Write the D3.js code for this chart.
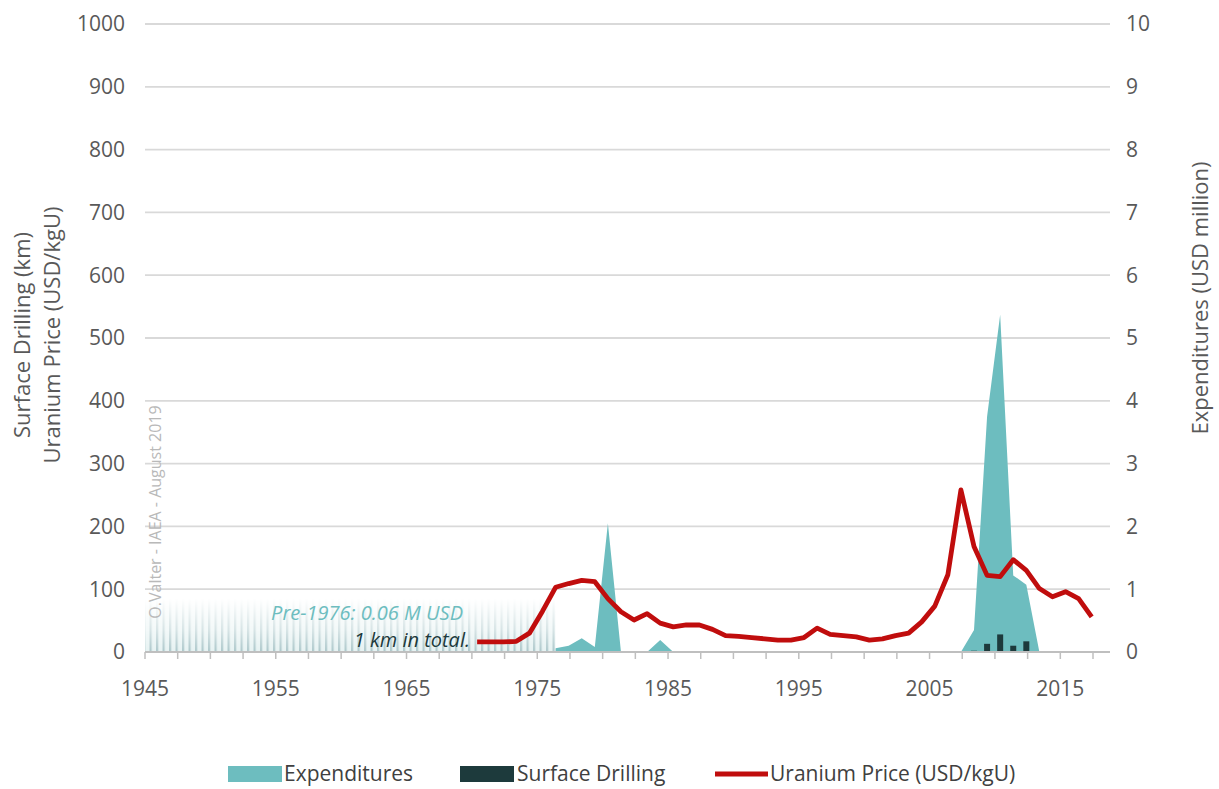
<!DOCTYPE html>
<html>
<head>
<meta charset="utf-8">
<script src="https://cdn.jsdelivr.net/npm/d3@7"></script>
<style>
  html, body { margin: 0; padding: 0; background: #ffffff; }
  svg { display: block; }
  text { font-family: "Open Sans", "Noto Sans", sans-serif; }
</style>
</head>
<body>
<svg id="chart" width="1219" height="789"></svg>
<script>
// ---------------- DATA ----------------
const priceYears = [1970,1971,1972,1973,1974,1975,1976,1977,1978,1979,1980,1981,1982,1983,1984,1985,1986,1987,1988,1989,1990,1991,1992,1993,1994,1995,1996,1997,1998,1999,2000,2001,2002,2003,2004,2005,2006,2007,2008,2009,2010,2011,2012,2013,2014,2015,2016,2017];
const priceValues = [16,16,16,17,30,65,103,109,114,112,85,64,51,61,46,40,43,43,36,26,25,23,21,19,19,23,38,28,26,24,19,21,26,30,48,73,123,258,168,122,120,147,130,101,88,96,85,56];

const expYears  = [1976,1977,1978,1979,1980,1981,1982,1983,1984,1985,1986,1987,1988,1989,1990,1991,1992,1993,1994,1995,1996,1997,1998,1999,2000,2001,2002,2003,2004,2005,2006,2007,2008,2009,2010,2011,2012,2013];
const expValues = [0.06,0.10,0.22,0.08,2.05,0,0,0,0.19,0,0,0,0,0,0,0,0,0,0,0,0,0,0,0,0,0,0,0,0,0,0,0,0.35,3.75,5.37,1.22,1.07,0];

const drillYears  = [2008,2009,2010,2011,2012];
const drillValues = [2,13,28,10,17];

const preRange = [1945, 1976];   // pre-1976 aggregated period (hatched)
const preLevel = 0.85;           // hatched band height, right axis units

const leftTicks  = [0,100,200,300,400,500,600,700,800,900,1000];
const rightTicks = [0,1,2,3,4,5,6,7,8,9,10];
const xLabelYears = [1945,1955,1965,1975,1985,1995,2005,2015];

const legendItems = ["Expenditures", "Surface Drilling", "Uranium Price (USD/kgU)"];
const leftTitle = ["Surface Drilling (km)", "Uranium Price (USD/kgU)"];
const rightTitle = "Expenditures (USD million)";
const notePre = "Pre-1976: 0.06 M USD";
const noteKm = "1 km in total.";
const credit = "O.Valter - IAEA - August 2019";

// ---------------- LAYOUT ----------------
const POINT_OFFSET = 0.4; // points sit slightly after the year tick
const C = { teal: "#6dbdbf", dark: "#1d3a3c", red: "#c00d0d", grid: "#d9d9d9", axis: "#bfbfbf", text: "#595959" };

const svg = d3.select("#chart");
svg.append("rect").attr("width", 1219).attr("height", 789).attr("fill", "#fff");

const x = d3.scaleLinear().domain([1945, 2018.8]).range([145, 1110]);
const yL = d3.scaleLinear().domain([0, 1000]).range([652, 24]);
const yR = d3.scaleLinear().domain([0, 10]).range([652, 24]);
const px = yr => x(yr + POINT_OFFSET);

// gridlines
svg.append("g").selectAll("line").data(leftTicks.filter(d => d > 0)).join("line")
  .attr("x1", x.range()[0]).attr("x2", x.range()[1])
  .attr("y1", d => yL(d)).attr("y2", d => yL(d))
  .attr("stroke", C.grid).attr("stroke-width", 1.8);

// defs: stripes pattern and fade mask
const defs = svg.append("defs");
const pat = defs.append("pattern").attr("id", "stripes").attr("patternUnits", "userSpaceOnUse")
  .attr("width", 6.5).attr("height", 10);
pat.append("rect").attr("width", 6.5).attr("height", 10).attr("fill", "#e6f2f2");
pat.append("rect").attr("x", 0).attr("width", 2.2).attr("height", 10).attr("fill", "#adc8cb");
const grad = defs.append("linearGradient").attr("id", "fade").attr("x1", 0).attr("y1", 0).attr("x2", 0).attr("y2", 1);
grad.append("stop").attr("offset", "0%").attr("stop-color", "#fff").attr("stop-opacity", 0);
grad.append("stop").attr("offset", "60%").attr("stop-color", "#fff").attr("stop-opacity", 0.5);
grad.append("stop").attr("offset", "100%").attr("stop-color", "#fff").attr("stop-opacity", 1);
const mask = defs.append("mask").attr("id", "fadeMask").attr("maskContentUnits", "objectBoundingBox");
mask.append("rect").attr("width", 1).attr("height", 1).attr("fill", "url(#fade)");

svg.append("rect")
  .attr("x", x(preRange[0])).attr("width", px(preRange[1]) - x(preRange[0]))
  .attr("y", yR(preLevel)).attr("height", yR(0) - yR(preLevel))
  .attr("fill", "url(#stripes)").attr("mask", "url(#fadeMask)");

// expenditures area (right axis)
const expData = expYears.map((y, i) => ({ y, v: expValues[i] }));
svg.append("path").datum(expData)
  .attr("d", d3.area().x(d => px(d.y)).y0(yR(0)).y1(d => yR(d.v)))
  .attr("fill", C.teal);

// drilling bars (left axis)
const bw = 6;
svg.append("g").selectAll("rect").data(drillYears.map((y, i) => ({ y, v: drillValues[i] }))).join("rect")
  .attr("x", d => px(d.y) - bw / 2).attr("width", bw)
  .attr("y", d => yL(d.v)).attr("height", d => yL(0) - yL(d.v))
  .attr("fill", C.dark);

// x axis line + ticks
svg.append("line").attr("x1", x.range()[0]).attr("x2", x.range()[1])
  .attr("y1", yL(0)).attr("y2", yL(0)).attr("stroke", C.axis).attr("stroke-width", 1.8);
const minorTicks = d3.range(1945, 2018, 2.5);
svg.append("g").selectAll("line").data(minorTicks).join("line")
  .attr("x1", d => x(d)).attr("x2", d => x(d))
  .attr("y1", yL(0)).attr("y2", yL(0) + 7)
  .attr("stroke", C.axis).attr("stroke-width", 1.5);

// uranium price line (left axis)
const priceData = priceYears.map((y, i) => ({ y, v: priceValues[i] }));
svg.append("path").datum(priceData)
  .attr("d", d3.line().x(d => px(d.y)).y(d => yL(d.v)))
  .attr("fill", "none").attr("stroke", C.red).attr("stroke-width", 4.8)
  .attr("stroke-linejoin", "round").attr("stroke-linecap", "butt");

// tick labels
const TF = 21;
svg.append("g").selectAll("text").data(leftTicks).join("text")
  .attr("x", 125).attr("y", d => yL(d)).attr("dy", "0.35em")
  .attr("text-anchor", "end").attr("font-size", TF).attr("fill", C.text)
  .text(d => d);
svg.append("g").selectAll("text").data(rightTicks).join("text")
  .attr("x", 1126).attr("y", d => yR(d)).attr("dy", "0.35em")
  .attr("text-anchor", "start").attr("font-size", TF).attr("fill", C.text)
  .text(d => d);
svg.append("g").selectAll("text").data(xLabelYears).join("text")
  .attr("x", d => x(d)).attr("y", 689).attr("dy", "0.35em")
  .attr("text-anchor", "middle").attr("font-size", TF).attr("fill", C.text)
  .text(d => d);

// axis titles
svg.append("text").attr("transform", "translate(30,335) rotate(-90)")
  .attr("text-anchor", "middle").attr("font-size", 22).attr("fill", C.text).text(leftTitle[0]);
svg.append("text").attr("transform", "translate(60,335) rotate(-90)")
  .attr("text-anchor", "middle").attr("font-size", 22).attr("fill", C.text).text(leftTitle[1]);
svg.append("text").attr("transform", "translate(1208,298) rotate(-90)")
  .attr("text-anchor", "middle").attr("font-size", 22).attr("fill", C.text).text(rightTitle);

// annotations
svg.append("text").attr("x", 463).attr("y", 620).attr("text-anchor", "end")
  .attr("font-style", "italic").attr("font-size", 20).attr("fill", C.teal).text(notePre);
svg.append("text").attr("x", 470).attr("y", 647).attr("text-anchor", "end")
  .attr("font-style", "italic").attr("font-size", 20).attr("fill", C.dark).text(noteKm);
svg.append("text").attr("transform", "translate(161,512) rotate(-90)")
  .attr("text-anchor", "middle").attr("font-size", 16).attr("fill", "#b9b9b9").text(credit);

// legend
const LF = 21;
const lg = svg.append("g").attr("transform", "translate(0,774)");
lg.append("rect").attr("x", 228).attr("y", -8).attr("width", 54).attr("height", 16).attr("fill", C.teal);
lg.append("text").attr("x", 284).attr("dy", "0.35em").attr("font-size", LF).attr("fill", "#404040").text(legendItems[0]);
lg.append("rect").attr("x", 460).attr("y", -8).attr("width", 54).attr("height", 16).attr("fill", C.dark);
lg.append("text").attr("x", 517).attr("dy", "0.35em").attr("font-size", LF).attr("fill", "#404040").text(legendItems[1]);
lg.append("line").attr("x1", 715).attr("x2", 768).attr("stroke", C.red).attr("stroke-width", 4.8);
lg.append("text").attr("x", 770).attr("dy", "0.35em").attr("font-size", LF).attr("fill", "#404040").text(legendItems[2]);
</script>
</body>
</html>
